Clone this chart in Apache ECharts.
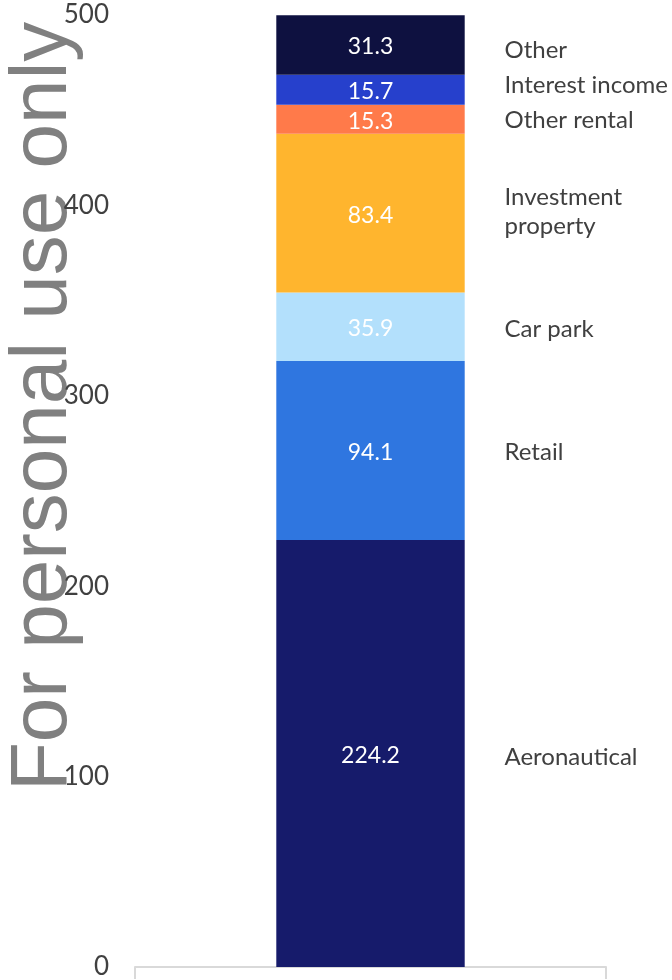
<!DOCTYPE html>
<html>
<head>
<meta charset="utf-8">
<script src="https://cdn.jsdelivr.net/npm/echarts@6/dist/echarts.min.js"></script>
<style>
html,body{margin:0;padding:0;background:#fff;}
#chart{width:672px;height:980px;}
</style>
</head>
<body>
<div id="chart"></div>
<script>
// ---- data ----
const categories = ['Revenue'];
const seriesNames = ['Aeronautical', 'Retail', 'Car park', 'Investment property', 'Other rental', 'Interest income', 'Other'];
const seriesValues = [224.2, 94.1, 35.9, 83.4, 15.3, 15.7, 31.3];
const sideLabels = ['Aeronautical', 'Retail', 'Car park', 'Investment\nproperty', 'Other rental', 'Interest income', 'Other'];
const yTickLabels = [0, 100, 200, 300, 400, 500];

// ---- styles ----
const colors = ['#161b6b', '#2f76e0', '#b3e0fc', '#ffb52e', '#ff7a4a', '#2640cc', '#0e1140'];
const sideLabelDy = [4, 2, 2, -1, 1, -4, 5];
const FONT = 'Lato, "Open Sans", sans-serif';

const chart = echarts.init(document.getElementById('chart'));

let cum = 0;
const series = seriesNames.map((name, i) => {
  const v = seriesValues[i];
  const mid = cum + v / 2;
  cum += v;
  return {
    name: name,
    type: 'bar',
    stack: 'total',
    barWidth: '40%',
    data: [v],
    itemStyle: { color: colors[i] },
    label: {
      show: true,
      position: 'inside',
      offset: [0, 2],
      color: '#ffffff',
      fontFamily: FONT,
      fontSize: 23,
      formatter: p => p.value.toFixed(1)
    },
    markPoint: {
      symbol: 'circle',
      symbolSize: 1,
      itemStyle: { color: 'rgba(0,0,0,0)' },
      silent: true,
      data: [{ coord: [categories[0], mid], value: 0 }],
      label: {
        show: true,
        position: 'inside',
        offset: [134, sideLabelDy[i]],
        align: 'left',
        verticalAlign: 'middle',
        color: '#404040',
        fontFamily: FONT,
        fontSize: 24,
        lineHeight: 29,
        formatter: () => sideLabels[i]
      }
    }
  };
});

chart.setOption({
  animation: false,
  backgroundColor: '#ffffff',
  grid: { left: 135, right: 66, top: 15, bottom: 11, containLabel: false },
  xAxis: {
    type: 'category',
    data: categories,
    axisLine: { show: true, lineStyle: { color: '#d9d9d9', width: 2 } },
    axisTick: { show: true, length: 12, lineStyle: { color: '#d9d9d9', width: 2 } },
    axisLabel: { show: false }
  },
  yAxis: {
    type: 'value',
    min: yTickLabels[0],
    max: yTickLabels[yTickLabels.length - 1],
    interval: yTickLabels[1] - yTickLabels[0],
    axisLine: { show: false },
    axisTick: { show: false },
    splitLine: { show: false },
    axisLabel: {
      color: '#404040',
      fontFamily: FONT,
      fontSize: 26,
      margin: 26
    }
  },
  graphic: [{
    type: 'text',
    x: 84,
    y: 791,
    rotation: Math.PI / 2,
    z: -10,
    silent: true,
    style: {
      text: 'For personal use only',
      font: '80px "Liberation Sans", Arial, sans-serif',
      fill: '#808080',
      align: 'left',
      verticalAlign: 'bottom'
    }
  }],
  series: series
});
</script>
</body>
</html>
